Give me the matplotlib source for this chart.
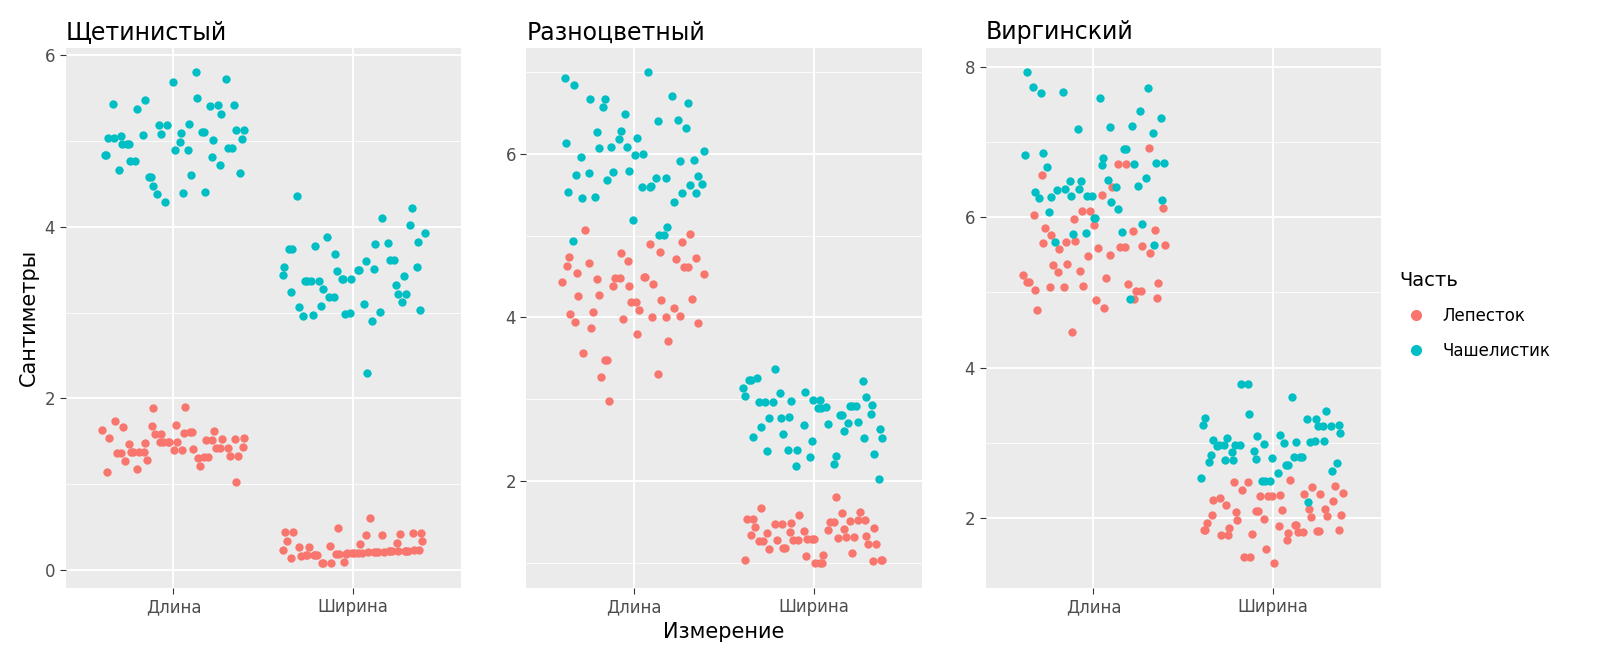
import matplotlib
matplotlib.use("Agg")
import matplotlib.pyplot as plt
from matplotlib.lines import Line2D
from matplotlib.ticker import MultipleLocator

# Iris measurements: sepal length, sepal width, petal length, petal width
SETOSA_SL = [5.1,4.9,4.7,4.6,5.0,5.4,4.6,5.0,4.4,4.9,5.4,4.8,4.8,4.3,5.8,5.7,5.4,5.1,5.7,5.1,5.4,5.1,4.6,5.1,4.8,5.0,5.0,5.2,5.2,4.7,4.8,5.4,5.2,5.5,4.9,5.0,5.5,4.9,4.4,5.1,5.0,4.5,4.4,5.0,5.1,4.8,5.1,4.6,5.3,5.0]
SETOSA_SW = [3.5,3.0,3.2,3.1,3.6,3.9,3.4,3.4,2.9,3.1,3.7,3.4,3.0,3.0,4.0,4.4,3.9,3.5,3.8,3.8,3.4,3.7,3.6,3.3,3.4,3.0,3.4,3.5,3.4,3.2,3.1,3.4,4.1,4.2,3.1,3.2,3.5,3.6,3.0,3.4,3.5,2.3,3.2,3.5,3.8,3.0,3.8,3.2,3.7,3.3]
SETOSA_PL = [1.4,1.4,1.3,1.5,1.4,1.7,1.4,1.5,1.4,1.5,1.5,1.6,1.4,1.1,1.2,1.5,1.3,1.4,1.7,1.5,1.7,1.5,1.0,1.7,1.9,1.6,1.6,1.5,1.4,1.6,1.6,1.5,1.5,1.4,1.5,1.2,1.3,1.4,1.3,1.5,1.3,1.3,1.3,1.6,1.9,1.4,1.6,1.4,1.5,1.4]
SETOSA_PW = [0.2,0.2,0.2,0.2,0.2,0.4,0.3,0.2,0.2,0.1,0.2,0.2,0.1,0.1,0.2,0.4,0.4,0.3,0.3,0.3,0.2,0.4,0.2,0.5,0.2,0.2,0.4,0.2,0.2,0.2,0.2,0.4,0.1,0.2,0.2,0.2,0.2,0.1,0.2,0.2,0.3,0.3,0.2,0.6,0.4,0.3,0.2,0.2,0.2,0.2]

VERSI_SL = [7.0,6.4,6.9,5.5,6.5,5.7,6.3,4.9,6.6,5.2,5.0,5.9,6.0,6.1,5.6,6.7,5.6,5.8,6.2,5.6,5.9,6.1,6.3,6.1,6.4,6.6,6.8,6.7,6.0,5.7,5.5,5.5,5.8,6.0,5.4,6.0,6.7,6.3,5.6,5.5,5.5,6.1,5.8,5.0,5.6,5.7,5.7,6.2,5.1,5.7]
VERSI_SW = [3.2,3.2,3.1,2.3,2.8,2.8,3.3,2.4,2.9,2.7,2.0,3.0,2.2,2.9,2.9,3.1,3.0,2.7,2.2,2.5,3.2,2.8,2.5,2.8,2.9,3.0,2.8,3.0,2.9,2.6,2.4,2.4,2.7,2.7,3.0,3.4,3.1,2.3,3.0,2.5,2.6,3.0,2.6,2.3,2.7,3.0,2.9,2.9,2.5,2.8]
VERSI_PL = [4.7,4.5,4.9,4.0,4.6,4.5,4.7,3.3,4.6,3.9,3.5,4.2,4.0,4.7,3.6,4.4,4.5,4.1,4.5,3.9,4.8,4.0,4.9,4.7,4.3,4.4,4.8,5.0,4.5,3.5,3.8,3.7,3.9,5.1,4.5,4.5,4.7,4.4,4.1,4.0,4.4,4.6,4.0,3.3,4.2,4.2,4.2,4.3,3.0,4.1]
VERSI_PW = [1.4,1.5,1.5,1.3,1.5,1.3,1.6,1.0,1.3,1.4,1.0,1.5,1.0,1.4,1.3,1.4,1.5,1.0,1.5,1.1,1.8,1.3,1.5,1.2,1.3,1.4,1.4,1.7,1.5,1.0,1.1,1.0,1.2,1.6,1.5,1.6,1.5,1.3,1.3,1.3,1.2,1.4,1.2,1.0,1.3,1.2,1.3,1.3,1.1,1.3]

VIRG_SL = [6.3,5.8,7.1,6.3,6.5,7.6,4.9,7.3,6.7,7.2,6.5,6.4,6.8,5.7,5.8,6.4,6.5,7.7,7.7,6.0,6.9,5.6,7.7,6.3,6.7,7.2,6.2,6.1,6.4,7.2,7.4,7.9,6.4,6.3,6.1,7.7,6.3,6.4,6.0,6.9,6.7,6.9,5.8,6.8,6.7,6.7,6.3,6.5,6.2,5.9]
VIRG_SW = [3.3,2.7,3.0,2.9,3.0,3.0,2.5,2.9,2.5,3.6,3.2,2.7,3.0,2.5,2.8,3.2,3.0,3.8,2.6,2.2,3.2,2.8,2.8,2.7,3.3,3.2,2.8,3.0,2.8,3.0,2.8,3.8,2.8,2.8,2.6,3.0,3.4,3.1,3.0,3.1,3.1,3.1,2.7,3.2,3.3,3.0,2.5,3.0,3.4,3.0]
VIRG_PL = [6.0,5.1,5.9,5.6,5.8,6.6,4.5,6.3,5.8,6.1,5.1,5.3,5.5,5.0,5.1,5.3,5.5,6.7,6.9,5.0,5.7,4.9,6.7,4.9,5.7,6.0,4.8,4.9,5.6,5.8,6.1,6.4,5.6,5.1,5.6,6.1,5.6,5.5,4.8,5.4,5.6,5.1,5.1,5.9,5.7,5.2,5.0,5.2,5.4,5.1]
VIRG_PW = [2.5,1.9,2.1,1.8,2.2,2.1,1.7,1.8,1.8,2.5,2.0,1.9,2.1,2.0,2.4,2.3,1.8,2.2,2.3,1.5,2.3,2.0,2.0,1.8,2.1,1.8,1.8,1.8,2.1,1.6,1.9,2.0,2.2,1.5,1.4,2.3,2.4,1.8,1.8,2.1,2.4,2.3,1.9,2.3,2.5,2.3,1.9,2.0,2.3,1.8]

SPECIES = ["Щетинистый", "Разноцветный", "Виргинский"]
MEASURES = ["Длина", "Ширина"]
PARTS = ["Лепесток", "Чашелистик"]
COLORS = {"Лепесток": "#F8766D", "Чашелистик": "#00BFC4"}

DATA = {
    "Щетинистый": {("Лепесток", 0): SETOSA_PL, ("Лепесток", 1): SETOSA_PW,
                   ("Чашелистик", 0): SETOSA_SL, ("Чашелистик", 1): SETOSA_SW},
    "Разноцветный": {("Лепесток", 0): VERSI_PL, ("Лепесток", 1): VERSI_PW,
                     ("Чашелистик", 0): VERSI_SL, ("Чашелистик", 1): VERSI_SW},
    "Виргинский": {("Лепесток", 0): VIRG_PL, ("Лепесток", 1): VIRG_PW,
                   ("Чашелистик", 0): VIRG_SL, ("Чашелистик", 1): VIRG_SW},
}
YTICKS = {"Щетинистый": [0, 2, 4, 6], "Разноцветный": [2, 4, 6], "Виргинский": [2, 4, 6, 8]}


def spread(n, seed, amp):
    # deterministic, irregular spread standing in for ggplot's geom_jitter
    out = []
    for i in range(n):
        h = ((i + 1) * 7919 + seed * 104729) * 2654435761 % 4294967296
        out.append((h / 4294967296 - 0.5) * 2 * amp)
    return out


fig = plt.figure(figsize=(16, 6.71), dpi=100)
lefts = [0.041, 0.329, 0.616]
width = 0.247
axes = [fig.add_axes([l, 0.124, width, 0.805]) for l in lefts]

for k, (ax, sp) in enumerate(zip(axes, SPECIES)):
    ax.set_facecolor("#EBEBEB")
    allv = []
    for pi, part in enumerate(PARTS):
        for mi in range(2):
            vals = DATA[sp][(part, mi)]
            seed = 11 * k + 5 * pi + 3 * mi + 1
            xs = [mi + 1 + j for j in spread(len(vals), seed, 0.4)]
            ys = [v + j for v, j in zip(vals, spread(len(vals), seed + 97, 0.04))]
            allv += ys
            ax.scatter(xs, ys, s=36, color=COLORS[part], linewidths=0, zorder=3)
    lo, hi = min(allv), max(allv)
    pad = (hi - lo) * 0.05
    ax.set_ylim(lo - pad, hi + pad)
    ax.set_xlim(0.4, 2.6)
    ax.set_xticks([1, 2])
    ax.set_xticklabels(MEASURES)
    ax.set_yticks(YTICKS[sp])
    ax.yaxis.set_minor_locator(MultipleLocator(1))
    ax.grid(True, which="major", color="white", linewidth=1.4, zorder=0)
    ax.grid(True, which="minor", axis="y", color="white", linewidth=0.6, zorder=0)
    ax.set_axisbelow(True)
    for s in ax.spines.values():
        s.set_visible(False)
    ax.tick_params(which="both", colors="#333333", labelcolor="#4D4D4D", labelsize=12, length=4)
    ax.tick_params(which="minor", length=0)
    ax.set_title(sp, loc="left", fontsize=17, pad=6)

axes[0].set_ylabel("Сантиметры", fontsize=15)
axes[1].set_xlabel("Измерение", fontsize=15)

handles = [Line2D([], [], marker="o", linestyle="", markersize=7,
                  color=COLORS[p], label=p) for p in PARTS]
leg = fig.legend(handles=handles, title="Часть", loc="center left",
                 bbox_to_anchor=(0.865, 0.53), frameon=False, fontsize=12,
                 title_fontsize=14, handletextpad=0.6, labelspacing=1.0)
leg._legend_box.align = "left"

fig.savefig("out.png", dpi=100)
